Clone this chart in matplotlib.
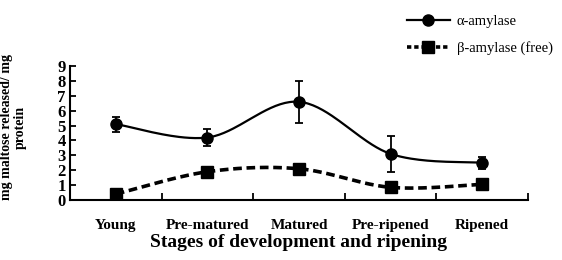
import matplotlib

matplotlib.use("Agg")

import matplotlib.pyplot as plt
import numpy as np
from matplotlib.lines import Line2D

stages = ["Young", "Pre-matured", "Matured", "Pre-ripened", "Ripened"]
alpha_amylase = [5.1, 4.2, 6.6, 3.1, 2.5]
alpha_err = [0.5, 0.6, 1.4, 1.2, 0.4]
beta_amylase = [0.4, 1.9, 2.1, 0.85, 1.05]
beta_err = [0.1, 0.1, 0.15, 0.1, 0.1]
y_ticks = list(range(0, 10))


def smooth(xs, ys, steps=40):
    # Bezier curve through points, like a spreadsheet "smoothed line"
    xs = np.asarray(xs, dtype=float)
    ys = np.asarray(ys, dtype=float)
    px = np.concatenate([[xs[0]], xs, [xs[-1]]])
    py = np.concatenate([[ys[0]], ys, [ys[-1]]])
    out_x, out_y = [], []
    t = np.linspace(0, 1, steps)
    for i in range(1, len(px) - 2):
        p0 = np.array([px[i], py[i]])
        p3 = np.array([px[i + 1], py[i + 1]])
        c1 = p0 + (np.array([px[i + 1], py[i + 1]]) - np.array([px[i - 1], py[i - 1]])) / 6
        c2 = p3 - (np.array([px[i + 2], py[i + 2]]) - np.array([px[i], py[i]])) / 6
        pts = (
            ((1 - t) ** 3)[:, None] * p0
            + (3 * (1 - t) ** 2 * t)[:, None] * c1
            + (3 * (1 - t) * t**2)[:, None] * c2
            + (t**3)[:, None] * p3
        )
        out_x.extend(pts[:, 0])
        out_y.extend(pts[:, 1])
    return np.array(out_x), np.array(out_y)


plt.rcParams["font.family"] = ["Liberation Serif", "DejaVu Serif"]

fig = plt.figure(figsize=(5.62, 2.6), dpi=100, facecolor="white")
ax = fig.add_axes([0.1246, 0.2308, 0.815, 0.515])

x = np.arange(len(stages))

sx, sy = smooth(x, alpha_amylase)
ax.plot(sx, sy, color="black", linewidth=1.6, zorder=2)
ax.errorbar(x, alpha_amylase, yerr=alpha_err, fmt="o", color="black",
            markersize=8, capsize=3, elinewidth=1.3, capthick=1.3, zorder=3)

sx, sy = smooth(x, beta_amylase)
ax.plot(sx, sy, color="black", linewidth=2.6, linestyle=(0, (2.4, 1.3)), zorder=2)
ax.errorbar(x, beta_amylase, yerr=beta_err, fmt="s", color="black",
            markersize=9, capsize=2, elinewidth=1.0, zorder=3)

ax.set_xlim(-0.5, len(stages) - 0.5)
ax.set_ylim(0, 9)
ax.set_yticks(y_ticks)
ax.set_yticklabels([str(v) for v in y_ticks], fontsize=12, fontweight="bold")
ax.set_xticks(np.arange(-0.5, len(stages), 1.0))
ax.set_xticklabels([])
ax.set_xticks(x, minor=True)
ax.set_xticklabels(stages, minor=True, fontsize=11, fontweight="bold")
ax.tick_params(axis="x", which="minor", length=0, pad=14)
ax.tick_params(axis="x", which="major", length=5, width=1.3, direction="in")
ax.tick_params(axis="y", length=4, width=1.3, direction="in", pad=3)
ax.spines[["top", "right"]].set_visible(False)
ax.spines[["left", "bottom"]].set_linewidth(1.5)

ax.set_xlabel("Stages of development and ripening", fontsize=14,
              fontweight="bold", labelpad=1)
fig.text(0.024, 0.51, "mg maltose released/ mg\nprotein", rotation=90,
         fontsize=10, fontweight="bold", ha="center", va="center",
         linespacing=1.05, multialignment="center")

handles = [
    Line2D([], [], color="black", linewidth=1.6, marker="o", markersize=8),
    Line2D([], [], color="black", linewidth=2.6, linestyle=(0, (1.2, 0.8)),
           marker="s", markersize=9),
]
fig.legend(handles, ["α-amylase", "β-amylase (free)"], loc="upper left",
           bbox_to_anchor=(0.70, 0.995), frameon=False, fontsize=10.5,
           handlelength=3.0, handletextpad=0.45, labelspacing=0.95)

fig.savefig("out.png", dpi=100, facecolor="white")
plt.close(fig)
